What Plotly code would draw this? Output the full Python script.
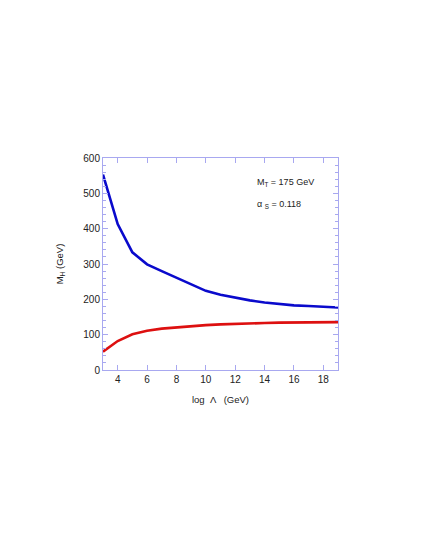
import plotly.graph_objects as go

log_lambda = [3, 4, 5, 6, 7, 8, 9, 10, 11, 12, 13, 14, 15, 16, 17, 18, 19]
upper_mh = [553, 413, 333, 299, 280, 261, 241, 224, 213, 204, 197, 191, 186, 183, 181, 179, 177]
lower_mh = [52, 82, 101, 111, 117, 121, 125, 127, 129, 131, 132, 133, 134, 134.5, 135, 135.5, 135.5]

x_ticks = [4, 6, 8, 10, 12, 14, 16, 18]
y_ticks = [0, 100, 200, 300, 400, 500, 600]

frame = "#a8a8f0"
font = "Liberation Sans, Arial, sans-serif"

fig = go.Figure()
fig.add_trace(go.Scatter(x=log_lambda, y=upper_mh, mode="lines",
                         line=dict(color="#0a0acc", width=2.6), showlegend=False))
fig.add_trace(go.Scatter(x=log_lambda, y=lower_mh, mode="lines",
                         line=dict(color="#dd1010", width=2.6), showlegend=False))

axis_common = dict(showgrid=False, zeroline=False, showline=True, linecolor=frame,
                   linewidth=1, mirror="allticks", ticks="inside", tickcolor=frame,
                   ticklen=5, tickwidth=1,
                   tickfont=dict(family=font, size=10, color="#222222"))

fig.update_xaxes(range=[3, 19], tickvals=x_ticks, ticktext=[str(v) for v in x_ticks],
                 title=dict(text="log  Λ   (GeV)", font=dict(family=font, size=9.5, color="#222222"),
                            standoff=12),
                 **axis_common)
fig.update_yaxes(range=[0, 600], tickvals=y_ticks, ticktext=[str(v) for v in y_ticks],
                 minor=dict(dtick=20, ticks="inside", ticklen=3, tickcolor=frame, showgrid=False),
                 title=dict(text="M<sub>H</sub> (GeV)", font=dict(family=font, size=9.5, color="#222222"),
                            standoff=17),
                 **axis_common)

fig.add_annotation(x=0.645, y=0.885, xref="paper", yref="paper", xanchor="left", yanchor="middle",
                   text="M<sub>T</sub> = 175 GeV", showarrow=False,
                   font=dict(family=font, size=9, color="#222222"))
fig.add_annotation(x=0.645, y=0.78, xref="paper", yref="paper", xanchor="left", yanchor="middle",
                   text="α <sub>S</sub> = 0.118", showarrow=False,
                   font=dict(family=font, size=9, color="#222222"))

fig.update_layout(width=428, height=554, margin=dict(l=95, r=98, t=150, b=192),
                  plot_bgcolor="white", paper_bgcolor="white")

fig.write_html("out.html")
